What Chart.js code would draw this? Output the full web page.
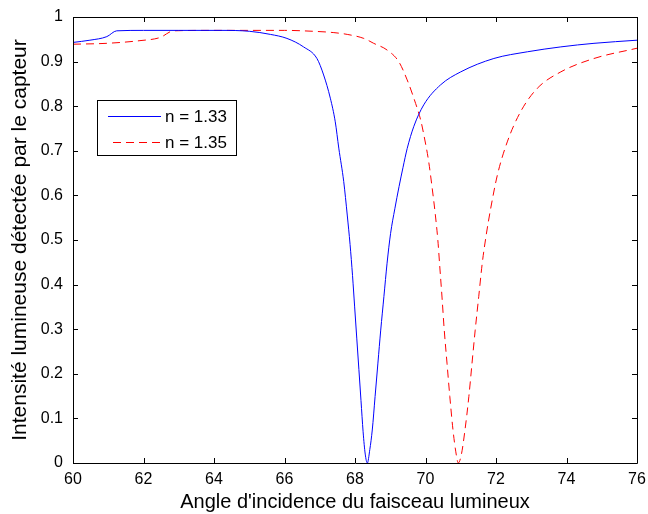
<!DOCTYPE html>
<html>
<head>
<meta charset="utf-8">
<script src="https://cdn.jsdelivr.net/npm/chart.js"></script>
<style>
  html, body { margin: 0; padding: 0; background: #fff; }
  #wrap { width: 648px; height: 514px; }
</style>
</head>
<body>
<div id="wrap"><canvas id="c"></canvas></div>
<script>
// values
const angles133 = [60, 60.48, 60.96, 61.24, 62, 63, 64.2, 65.0, 65.6, 66.07, 66.54, 66.92, 67.11, 67.3, 67.44, 67.54, 67.68,
  67.78, 67.86, 67.93, 67.99, 68.05, 68.11, 68.17, 68.23, 68.29, 68.35, 68.42, 68.49, 68.57, 68.65, 68.73, 68.82, 68.91,
  69.01, 69.13, 69.25, 69.36, 69.48, 69.67, 69.95, 70.43, 71.0, 71.94, 72.89, 73.84, 74.78, 76];
const values133 = [0.943, 0.948, 0.956, 0.969, 0.97, 0.97, 0.97, 0.968, 0.961, 0.952, 0.933, 0.907, 0.87, 0.818, 0.765, 0.706, 0.631,
  0.556, 0.49, 0.42, 0.35, 0.28, 0.21, 0.14, 0.07, 0.02, 0.0, 0.03, 0.074, 0.149, 0.224, 0.298, 0.373, 0.448,
  0.515, 0.57, 0.62, 0.662, 0.705, 0.755, 0.803, 0.848, 0.877, 0.907, 0.922, 0.933, 0.941, 0.948];

const angles135 = [60, 60.96, 61.9, 62.47, 62.85, 64, 65, 66, 66.8, 67.4, 67.78, 68.25, 68.53, 68.91, 69.24, 69.48, 69.72,
  69.86, 69.95, 70.09, 70.19, 70.28, 70.35, 70.41, 70.47, 70.53, 70.61, 70.69, 70.78, 70.86, 70.93, 71.02, 71.12, 71.23,
  71.32, 71.41, 71.51, 71.61, 71.72, 71.85, 72.04, 72.32, 72.7, 73.17, 73.84, 74.78, 76];
const values135 = [0.939, 0.941, 0.947, 0.954, 0.969, 0.97, 0.97, 0.97, 0.968, 0.965, 0.961, 0.952, 0.941, 0.926, 0.9, 0.859, 0.806,
  0.77, 0.737, 0.676, 0.616, 0.556, 0.5, 0.435, 0.37, 0.3, 0.224, 0.149, 0.074, 0.025, 0.0, 0.02, 0.074, 0.149,
  0.224, 0.298, 0.373, 0.448, 0.51, 0.571, 0.646, 0.72, 0.788, 0.84, 0.877, 0.907, 0.93];

const seriesLabels = ['n = 1.33', 'n = 1.35'];
const xTicks = [60, 62, 64, 66, 68, 70, 72, 74, 76];
const yTicks = [0, 0.1, 0.2, 0.3, 0.4, 0.5, 0.6, 0.7, 0.8, 0.9, 1];

const FONT = '"Liberation Sans", Arial, sans-serif';

function pts(xs, ys) {
  return xs.map((x, i) => ({ x: x, y: ys[i] }));
}

// MATLAB-like box with inward ticks, plus the legend box
const matlabBox = {
  id: 'matlabBox',
  afterDatasetsDraw(chart) {
    const ctx = chart.ctx;
    const a = chart.chartArea;
    const xs = chart.scales.x, ys = chart.scales.y;
    ctx.save();
    ctx.strokeStyle = '#000';
    ctx.lineWidth = 1;
    ctx.beginPath();
    ctx.rect(Math.round(a.left) + 0.5, Math.round(a.top) + 0.5,
      Math.round(a.right - a.left), Math.round(a.bottom - a.top));
    ctx.stroke();
    const len = 5;
    ctx.beginPath();
    xTicks.forEach(v => {
      const px = Math.round(xs.getPixelForValue(v)) + 0.5;
      ctx.moveTo(px, a.bottom); ctx.lineTo(px, a.bottom - len);
      ctx.moveTo(px, a.top); ctx.lineTo(px, a.top + len);
    });
    yTicks.forEach(v => {
      const py = Math.round(ys.getPixelForValue(v)) + 0.5;
      ctx.moveTo(a.left, py); ctx.lineTo(a.left + len, py);
      ctx.moveTo(a.right, py); ctx.lineTo(a.right - len, py);
    });
    ctx.stroke();

    // legend
    const lx = 97.5, ly = 100.5, lw = 139, lh = 55;
    ctx.fillStyle = '#fff';
    ctx.fillRect(lx, ly, lw, lh);
    ctx.strokeRect(lx, ly, lw, lh);
    ctx.font = '17px ' + FONT;
    ctx.textBaseline = 'middle';
    chart.data.datasets.forEach((ds, i) => {
      const yy = ly + 16 + i * 26;
      ctx.strokeStyle = ds.borderColor;
      ctx.setLineDash(ds.borderDash || []);
      ctx.beginPath();
      ctx.moveTo(i === 0 ? 108 : 113, yy);
      ctx.lineTo(161, yy);
      ctx.stroke();
      ctx.setLineDash([]);
      ctx.fillStyle = '#000';
      ctx.fillText(ds.label, 165, yy + 1);
    });
    ctx.restore();
  }
};

new Chart(document.getElementById('c'), {
  type: 'line',
  data: {
    datasets: [
      {
        label: seriesLabels[0],
        data: pts(angles133, values133),
        borderColor: '#0000ff',
        borderWidth: 1,
        pointRadius: 0,
        cubicInterpolationMode: 'monotone',
        fill: false
      },
      {
        label: seriesLabels[1],
        data: pts(angles135, values135),
        borderColor: '#ff0000',
        borderWidth: 1,
        borderDash: [8, 5],
        pointRadius: 0,
        cubicInterpolationMode: 'monotone',
        fill: false
      }
    ]
  },
  options: {
    responsive: true,
    maintainAspectRatio: false,
    animation: false,
    layout: { padding: { left: 0, right: 11, top: 17, bottom: 0 } },
    plugins: {
      legend: { display: false },
      tooltip: { enabled: false }
    },
    scales: {
      x: {
        type: 'linear',
        min: 60, max: 76,
        afterFit(s) { s.height = 51; s.paddingRight = 0; s.paddingLeft = 0; },
        afterBuildTicks(s) { s.ticks = xTicks.map(v => ({ value: v })); },
        grid: { display: false, drawTicks: false },
        border: { display: false },
        ticks: { color: '#000', padding: 7, font: { family: FONT, size: 16 }, maxRotation: 0 },
        title: {
          display: true,
          text: "Angle d'incidence du faisceau lumineux",
          color: '#000',
          font: { family: FONT, size: 20 },
          padding: { top: 0, bottom: 0 }
        }
      },
      y: {
        min: 0, max: 1,
        afterFit(s) { s.width = 73; s.paddingTop = 0; s.paddingBottom = 0; },
        afterBuildTicks(s) { s.ticks = yTicks.map(v => ({ value: v })); },
        grid: { display: false, drawTicks: false },
        border: { display: false },
        ticks: {
          color: '#000', padding: 10, font: { family: FONT, size: 16 },
          callback: v => (v === 0 || v === 1) ? String(v) : v.toFixed(1)
        },
        title: {
          display: true,
          text: 'Intensité lumineuse détectée par le capteur',
          color: '#000',
          font: { family: FONT, size: 21 },
          padding: { top: 8, bottom: 0 }
        }
      }
    }
  },
  plugins: [matlabBox]
});
</script>
</body>
</html>
